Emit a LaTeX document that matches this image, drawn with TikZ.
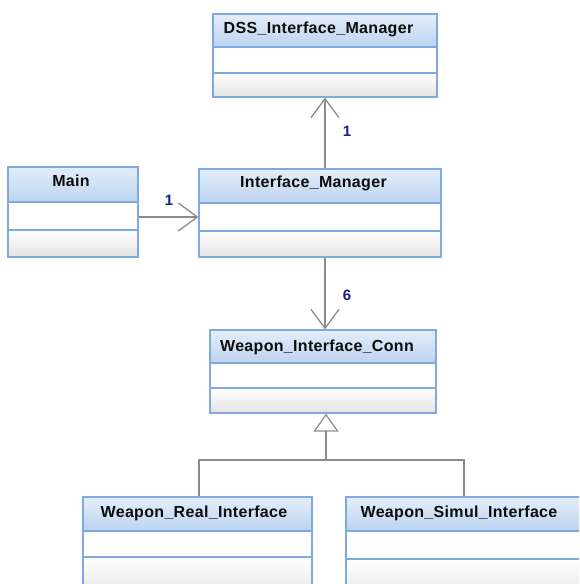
\documentclass[tikz,border=0pt]{standalone}
\usepackage{fontspec}
\setmainfont{Liberation Sans}
\newfontfamily\classfont{Liberation Sans}[LetterSpace=2]
\usetikzlibrary{arrows.meta,fit,calc}

\definecolor{hdrtop}{HTML}{E4EEFA}
\definecolor{hdrbot}{HTML}{BCD3EF}
\definecolor{lowbot}{HTML}{E3E3E3}
\definecolor{frameblue}{HTML}{7EAADF}
\definecolor{linkgray}{HTML}{8C8C8C}
\definecolor{multblue}{HTML}{1C1C8F}

\tikzset{
  classframe/.style={draw=frameblue, line width=1.2pt, inner sep=0pt, fill=none},
  sepline/.style={draw=frameblue, line width=1.2pt},
  classtitle/.style={anchor=base, inner sep=0pt,
    font=\classfont\bfseries\fontsize{16}{19}\selectfont, text=black!95},
  assoc/.style={draw=linkgray, line width=1.3pt,
    -{Straight Barb[length=19pt, width=28pt, line width=1.3pt]}},
  general/.style={draw=linkgray, line width=1.2pt},
  genhead/.style={general,
    -{Triangle[open, length=18pt, width=25pt, line width=1.2pt, fill=white]}},
  mult/.style={inner sep=0pt, text=multblue,
    font=\bfseries\fontsize{15}{17}\selectfont},
}

% UML class box: #1 name, #2 left, #3 top, #4 right,
% #5 header bottom, #6 middle line, #7 bottom
\newcommand\umlclass[7]{%
  \shade[top color=hdrtop, bottom color=hdrbot] (#2,#3) rectangle (#4,#5);
  \fill[white] (#2,#5) rectangle (#4,#6);
  \shade[top color=white, bottom color=lowbot] (#2,#6) rectangle (#4,#7);
  \draw[sepline] (#2,#5) -- (#4,#5) (#2,#6) -- (#4,#6);
  \node[classframe, fit={(#2,#3) (#4,#7)}] (#1) {};
}

\begin{document}
\begin{tikzpicture}[x=1pt, y=1pt]
  \useasboundingbox (0,0) rectangle (579,584);
  \clip (0,0) rectangle (579,584);
  \fill[white] (0,0) rectangle (579,584);

  % classes
  \umlclass{dss}{213}{570}{437}{537}{511}{487}
  \umlclass{main}{8}{417}{138}{382}{354}{327}
  \umlclass{im}{199}{415}{441}{381}{353}{327}
  \umlclass{wic}{210}{254}{436}{221}{196}{171}
  \umlclass{wri}{83}{87}{312}{53}{27}{-16}
  \umlclass{wsi}{346}{87}{582}{53}{25}{-16}

  % class names
  \node[classtitle] (dss-t)  at (318.5,550.5) {DSS\_Interface\_Manager};
  \node[classtitle] (main-t) at (71,397.3)    {Main};
  \node[classtitle] (im-t)   at (313.5,396.7) {Interface\_Manager};
  \node[classtitle] (wic-t)  at (317,232.3)   {Weapon\_Interface\_Conn};
  \node[classtitle] (wri-t)  at (194,66.7)    {Weapon\_Real\_Interface};
  \node[classtitle] (wsi-t)  at (459,66.7)    {Weapon\_Simul\_Interface};

  % associations
  \draw[assoc] ([yshift=-5pt]main.east) -- ([yshift=-5pt]main.east -| im.west);
  \draw[assoc] (im.north -| dss.south) -- (dss.south);
  \draw[assoc] (im.south -| dss.south) -- (wic.north -| dss.south);

  % multiplicities
  \node[mult] (m1) at (169,384) {1};
  \node[mult] (m2) at (347,453) {1};
  \node[mult] (m3) at (347,289) {6};

  % generalisation
  \coordinate (junc) at (326,124);
  \draw[general] (wri.north -| 199,0) |- (junc) -| (wsi.north);
  \draw[genhead] (junc) -- (wic.south -| junc);
\end{tikzpicture}
\end{document}
